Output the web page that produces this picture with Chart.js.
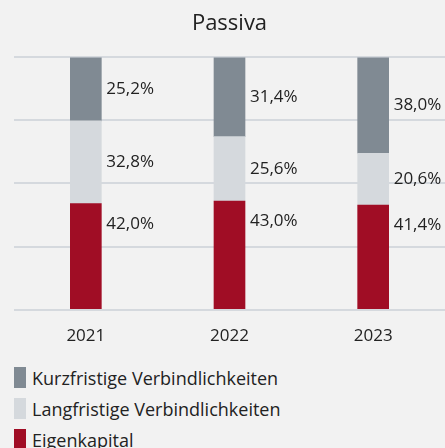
<!DOCTYPE html>
<html>
<head>
<meta charset="utf-8">
<script src="https://cdn.jsdelivr.net/npm/chart.js@4"></script>
<style>
  html, body { margin: 0; padding: 0; background: #f2f2f2; }
  #wrap { position: relative; width: 445px; height: 370px; }
  #legend { margin-top: -8px; font-family: "Open Sans", sans-serif; font-size: 18px; color: #222; }
  .row { height: 31px; display: flex; align-items: center; padding-left: 14px; }
  .box { width: 12px; height: 21px; margin-right: 6px; }
</style>
</head>
<body>
<div id="wrap"><canvas id="chart"></canvas></div>
<div id="legend"></div>
<script>
const years = ["2021", "2022", "2023"];
const eigenkapital = [42.0, 43.0, 41.4];
const langfristig = [32.8, 25.6, 20.6];
const kurzfristig = [25.2, 31.4, 38.0];

const red = "#a00d25";
const light = "#d5d9dd";
const grey = "#808a93";
const font = "'Open Sans', sans-serif";

// labels sit right of each bar segment
const sideLabels = {
  id: "sideLabels",
  afterDatasetsDraw(chart) {
    const ctx = chart.ctx;
    ctx.save();
    ctx.font = "17px " + font;
    ctx.fillStyle = "#222";
    ctx.textBaseline = "middle";
    ctx.textAlign = "left";
    chart.data.datasets.forEach((ds, i) => {
      chart.getDatasetMeta(i).data.forEach((bar, j) => {
        const x = bar.x + bar.width / 2 + 5;
        const y = i === 0 ? bar.y + 20 : (bar.y + bar.base) / 2;
        ctx.fillText(ds.data[j].toFixed(1).replace(".", ",") + "%", x, y);
      });
    });
    ctx.restore();
  }
};

new Chart(document.getElementById("chart"), {
  type: "bar",
  data: {
    labels: years,
    datasets: [
      { label: "Eigenkapital", data: eigenkapital, backgroundColor: red },
      { label: "Langfristige Verbindlichkeiten", data: langfristig, backgroundColor: light },
      { label: "Kurzfristige Verbindlichkeiten", data: kurzfristig, backgroundColor: grey }
    ]
  },
  options: {
    responsive: true,
    maintainAspectRatio: false,
    animation: false,
    layout: { padding: { left: 14, right: 0, top: 0, bottom: 8 } },
    datasets: { bar: { barThickness: 31 } },
    plugins: {
      legend: { display: false },
      tooltip: { enabled: false },
      title: {
        display: true,
        text: "Passiva",
        color: "#222",
        font: { family: font, size: 22, weight: "normal" },
        padding: { top: 11, bottom: 20 }
      }
    },
    scales: {
      x: {
        stacked: true,
        grid: { display: false, drawTicks: false },
        border: { display: false },
        ticks: { color: "#222", padding: 16, font: { family: font, size: 17 } }
      },
      y: {
        stacked: true,
        min: 0,
        max: 100,
        ticks: { display: false, stepSize: 25 },
        grid: { color: "#d5d9de", lineWidth: 2, drawTicks: false },
        border: { display: false }
      }
    }
  },
  plugins: [sideLabels]
});

// legend in the order shown in the original
const legend = document.getElementById("legend");
[["Kurzfristige Verbindlichkeiten", grey], ["Langfristige Verbindlichkeiten", light], ["Eigenkapital", red]]
  .forEach(([name, color]) => {
    const row = document.createElement("div");
    row.className = "row";
    const box = document.createElement("span");
    box.className = "box";
    box.style.background = color;
    row.appendChild(box);
    row.appendChild(document.createTextNode(name));
    legend.appendChild(row);
  });
</script>
</body>
</html>
